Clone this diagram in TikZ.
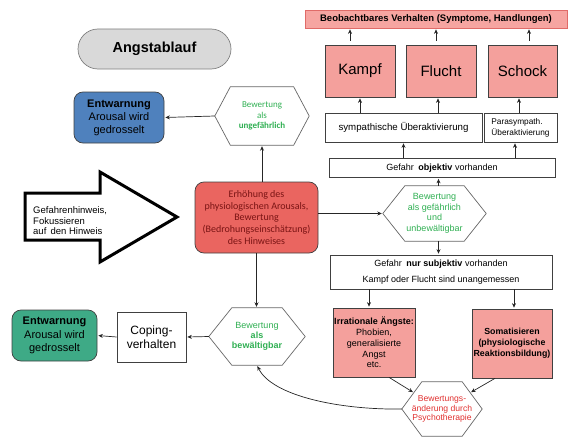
\documentclass[tikz,border=0pt]{standalone}
\usepackage{fontspec}
\setmainfont{Liberation Sans}
\newfontfamily\carl{Carlito}
\usetikzlibrary{arrows.meta,calc}
\definecolor{pillgray}{HTML}{D9D9D9}
\definecolor{barpink}{HTML}{F6A5A1}
\definecolor{barline}{HTML}{E06B68}
\definecolor{boxpink}{HTML}{F4A09C}
\definecolor{boxred}{HTML}{EA6560}
\definecolor{txtdarkred}{HTML}{7A1414}
\definecolor{txtred}{HTML}{E0302F}
\definecolor{txtgreen}{HTML}{2FAF52}
\definecolor{boxblue}{HTML}{4F81BD}
\definecolor{boxgreen}{HTML}{3EAA86}
\definecolor{linegray}{HTML}{404040}
\newcommand{\hexo}[2]{\draw[hexline] (#1.west) -- ([xshift=#2]#1.north west) -- ([xshift=-#2]#1.north east) -- (#1.east) -- ([xshift=-#2]#1.south east) -- ([xshift=#2]#1.south west) -- cycle;}
\begin{document}
\begin{tikzpicture}[x=1pt,y=-1pt,
  box/.style={draw=linegray, line width=0.7pt, inner sep=0pt, align=center},
  hexnode/.style={inner sep=0pt, align=center, text=txtgreen},
  hexline/.style={draw=linegray!80, line width=0.7pt},
  arr/.style={-{Stealth[length=4.5pt,width=4pt]}, line width=0.7pt, draw=black!85, shorten >=1pt},
  rbox/.style={box, rounded corners=9pt}
]
\useasboundingbox (0,0) rectangle (572,436);

% title pill
\node[box, draw=gray, fill=pillgray, rounded corners=20pt, minimum width=153pt, minimum height=40pt,
  font=\bfseries\fontsize{14.5}{17}\selectfont] (title) at (154.5,49) {Angstablauf};

% top bar
\node[box, draw=barline, fill=barpink, minimum width=262pt, minimum height=18pt,
  font=\bfseries\fontsize{9.5}{11}\selectfont] (bar) at (436,19) {Beobachtbares Verhalten (Symptome, Handlungen)};

% reaction boxes
\node[box, fill=boxpink, minimum width=70pt, minimum height=52pt, font=\fontsize{15}{18}\selectfont] (kampf) at (360,71) {Kampf};
\node[box, fill=boxpink, minimum width=70pt, minimum height=52pt, font=\fontsize{15}{18}\selectfont] (flucht) at (441,71) {Flucht};
\node[box, fill=boxpink, minimum width=69pt, minimum height=52pt, font=\fontsize{15}{18}\selectfont] (schock) at (522.5,71) {Schock};

\node[box, minimum width=157pt, minimum height=29pt, font=\fontsize{9.7}{11}\selectfont] (symp) at (403.5,127.5) {sympathische Überaktivierung};
\node[box, minimum width=73pt, minimum height=29pt, align=left, font=\fontsize{8.3}{11}\selectfont] (para) at (520.5,127.5) {Parasympath.\\Überaktivierung};

\node[box, minimum width=226pt, minimum height=19pt, font=\fontsize{9}{11}\selectfont] (obj) at (442,168) {Gefahr\enspace\textbf{objektiv} vorhanden};

\node[hexnode, minimum width=103pt, minimum height=55pt, font=\fontsize{9}{10.5}\selectfont] (hexG) at (434.5,213.5) {Bewertung\\als gefährlich\\und\\unbewältigbar};
\hexo{hexG}{22pt}

\node[box, minimum width=222pt, minimum height=34pt, font=\fontsize{9}{16}\selectfont] (subj) at (441,272) {Gefahr\enspace\textbf{nur subjektiv} vorhanden\\Kampf oder Flucht sind unangemessen};

\node[box, fill=boxpink, minimum width=82pt, minimum height=69pt, font=\fontsize{9}{10.8}\selectfont] (irr) at (374,342.5) {\textbf{Irrationale Ängste:}\\Phobien,\\generalisierte\\Angst\\etc.};
\node[box, fill=boxpink, minimum width=80pt, minimum height=69pt, font=\bfseries\fontsize{8.8}{11}\selectfont] (soma) at (512,343.5) {Somatisieren\\(physiologische\\Reaktionsbildung)};

\node[hexnode, text=txtred, minimum width=80pt, minimum height=54pt, font=\fontsize{8.6}{9.2}\selectfont] (hexP) at (442,409) {Bewertungs-\\änderung durch\\Psychotherapie};
\hexo{hexP}{20pt}

% central red box
\node[rbox, fill=boxred, text=txtdarkred, minimum width=123pt, minimum height=71pt, font=\carl\fontsize{10}{11.8}\selectfont] (red) at (256.5,217.5) {Erhöhung des\\physiologischen Arousals,\\Bewertung\\(Bedrohungseinschätzung)\\des Hinweises};

\node[hexnode, minimum width=94pt, minimum height=58pt, font=\carl\fontsize{9}{10.5}\selectfont] (hexU) at (262,116) {Bewertung\\als\\\textbf{ungefährlich}};
\hexo{hexU}{15.5pt}

\node[rbox, fill=boxblue, minimum width=90pt, minimum height=51pt, font=\fontsize{11}{13}\selectfont] (blue) at (119,117.5) {\textbf{Entwarnung}\\Arousal wird\\gedrosselt};

\node[hexnode, minimum width=96pt, minimum height=57pt, font=\fontsize{9}{10}\selectfont] (hexB) at (257,336.5) {Bewertung\\\textbf{als}\\\textbf{bewältigbar}};
\hexo{hexB}{23pt}

\node[box, minimum width=69pt, minimum height=50pt, font=\fontsize{12}{14}\selectfont] (coping) at (151.5,337) {Coping-\\verhalten};

\node[rbox, fill=boxgreen, minimum width=85pt, minimum height=51pt, font=\fontsize{11}{13.5}\selectfont] (green) at (54.5,335.5) {\textbf{Entwarnung}\\Arousal wird\\gedrosselt};

% big input arrow
\draw[line width=3pt, line join=miter, fill=white] (25,193) -- (100,193) -- (100,172) -- (177,217) -- (100,262) -- (100,240) -- (25,240) -- cycle;
\node[anchor=west, align=left, inner sep=0pt, font=\fontsize{9.5}{10.5}\selectfont] (cue) at (33,221) {Gefahrenhinweis,\\Fokussieren\\auf\, den Hinweis};

% connectors top region
\draw[arr] ([xshift=-10pt]kampf.north) ++(0,-4) -- ([xshift=-10pt]kampf.north |- bar.south);
\draw[arr] ([xshift=-5pt]flucht.north) ++(0,-4) -- ([xshift=-5pt]flucht.north |- bar.south);
\draw[arr] ([xshift=6.5pt]schock.north) ++(0,-4) -- ([xshift=6.5pt]schock.north |- bar.south);

\draw[arr] (kampf.south |- symp.north) -- (kampf.south);
\draw[arr] ([xshift=-3pt]flucht.south |- symp.north) -- ([xshift=-3pt]flucht.south);
\draw[arr] ([xshift=-3.5pt]schock.south |- para.north) -- ([xshift=-3.5pt]schock.south);

\draw[arr] (symp.south |- obj.north) -- (symp.south);
\draw[arr] ([xshift=-5.5pt]para.south |- obj.north) -- ([xshift=-5.5pt]para.south);

\draw[arr] ([xshift=4pt]hexG.north) -- ([xshift=4pt]hexG.north |- obj.south);
\draw[arr] ([xshift=4pt]hexG.south) -- ([xshift=4pt]hexG.south |- subj.north);

\draw[arr] ([xshift=-5pt]irr.north |- subj.south) -- ([xshift=-5pt]irr.north);
\draw[arr] ([xshift=2pt]soma.north |- subj.south) -- ([xshift=2pt]soma.north);

\draw[arr] ([xshift=15pt]irr.south) -- ($(hexP.west)!0.6!([xshift=20pt]hexP.north west)$);
\draw[arr] ([xshift=-17pt]soma.south) -- ($(hexP.east)!0.6!([xshift=-20pt]hexP.north east)$);

\draw[arr] (hexP.west) .. controls (340,410) and (272,396) .. (hexB.south);

% central connectors
\draw[arr] (red.east |- hexG.west) -- (hexG.west);
\draw[arr] (hexU.south |- red.north) -- (hexU.south);
\draw[arr] (red.south) -- (red.south |- hexB.north);
\draw[arr] (hexU.west) -- (blue.east);
\draw[arr] (hexB.west) -- (coping.east);
\draw[arr] (coping.west) -- (green.east);
\end{tikzpicture}
\end{document}
